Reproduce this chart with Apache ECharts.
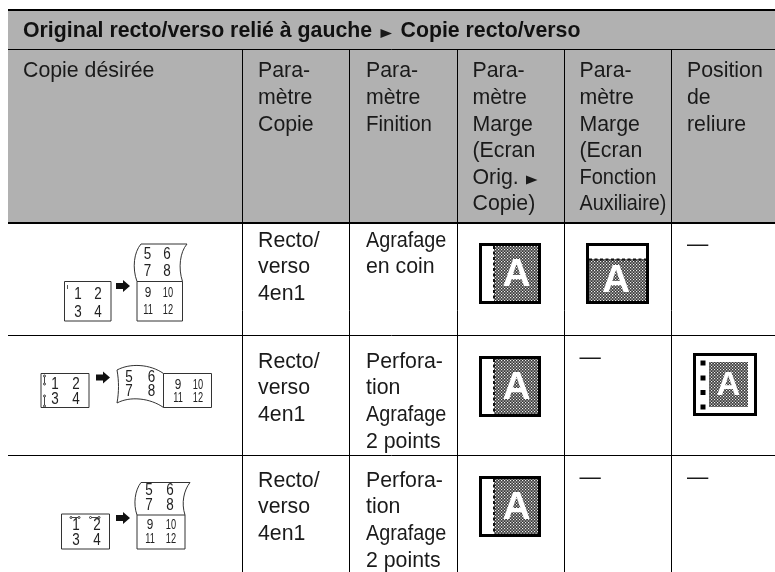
<!DOCTYPE html>
<html>
<head>
<meta charset="utf-8">
<style>
html, body { margin: 0; padding: 0; background: #fff; }
#main { width: 775px; height: 572px; }
</style>
<script src="https://cdn.jsdelivr.net/npm/echarts@6/dist/echarts.min.js"></script>
</head>
<body>
<div id="main"></div>
<script>
// textes du tableau
const titleLeft = 'Original recto/verso relié à gauche';
const titleRight = 'Copie recto/verso';
const headerCells = [
    ['Copie désirée'],
    ['Para-', 'mètre', 'Copie'],
    ['Para-', 'mètre', 'Finition'],
    ['Para-', 'mètre', 'Marge', '(Ecran', 'Orig.', 'Copie)'],
    ['Para-', 'mètre', 'Marge', '(Ecran', 'Fonction', 'Auxiliaire)'],
    ['Position', 'de', 'reliure']
];
const copyCells = [
    ['Recto/', 'verso', '4en1'],
    ['Recto/', 'verso', '4en1'],
    ['Recto/', 'verso', '4en1']
];
const finishCells = [
    ['Agrafage', 'en coin'],
    ['Perfora-', 'tion', 'Agrafage', '2 points'],
    ['Perfora-', 'tion', 'Agrafage', '2 points']
];
const dashCells = [[5, 0], [4, 1], [4, 2], [5, 2]];
const smallDigits = ['1', '2', '3', '4'];
const foldDigits = ['5', '6', '7', '8'];
const lowDigits = ['9', '10', '11', '12'];

// grille
const colEdges = [8, 242.5, 349.5, 457.5, 564.5, 671.5, 775];
const textX = [23, 258, 366, 472.5, 579.5, 687];
const rowTextY = [241, 362, 481];
const dashY = [245, 358, 478];
const lineStep = 26.6;

// mots composes plus serres dans l'original
var tightWords = { 'Agrafage': 0.93, 'Auxiliaire)': 0.93, 'Fonction': 0.94, 'Finition': 0.96 };

var FONT = '"Liberation Sans", Arial, sans-serif';
var INK = '#1a1a1a';
var BODY_SIZE = 21.3;

// trame des icones
var tile = document.createElement('canvas');
tile.width = 3;
tile.height = 3;
var tc = tile.getContext('2d');
tc.fillStyle = '#3a3a3a';
tc.fillRect(0, 0, 3, 3);
tc.fillStyle = '#f0f0f0';
tc.fillRect(0, 0, 1.2, 1.2);
tc.fillRect(1.5, 1.5, 1.2, 1.2);
var dither = { image: tile, repeat: 'repeat' };

// segments : x1, y1, x2, y2, epaisseur
var rules = [
    [8, 10, 775, 10, 2],
    [8, 49.5, 775, 49.5, 1],
    [8, 223, 775, 223, 2],
    [8, 335.5, 775, 335.5, 1],
    [8, 455.5, 775, 455.5, 1]
];
for (var c = 1; c < 6; c++) {
    rules.push([colEdges[c], 49.5, colEdges[c], 572, 1]);
}

// tous les textes du tableau
var texts = [];
function addLines(col, y, lines) {
    lines.forEach(function (t, i) {
        texts.push({ x: textX[col], y: y + i * lineStep, text: t });
    });
}
headerCells.forEach(function (lines, c) {
    addLines(c, 71.5, lines);
});
copyCells.forEach(function (lines, r) {
    addLines(1, rowTextY[r], lines);
});
finishCells.forEach(function (lines, r) {
    addLines(2, rowTextY[r], lines);
});

function label(x, y, t, size, extra) {
    return {
        type: 'text',
        style: Object.assign({
            text: t, x: x, y: y, fontSize: size, fontFamily: FONT,
            fill: INK, align: 'center', verticalAlign: 'middle'
        }, extra || {})
    };
}

// chiffre resserre, comme dans les schemas d'origine
function digit(x, y, t, size) {
    return {
        type: 'text',
        x: x,
        y: y,
        scaleX: t.length > 1 ? 0.66 : 0.84,
        style: {
            text: t, x: 0, y: 0, fontSize: size, fontFamily: FONT,
            fill: '#222', align: 'center', verticalAlign: 'middle'
        }
    };
}

function pathEl(d, fill, stroke, width, dash) {
    return {
        type: 'path',
        shape: { pathData: d },
        style: { fill: fill || 'none', stroke: stroke || null, lineWidth: width || 1, lineDash: dash || null }
    };
}

function rectEl(x, y, w, h, fill, stroke, width) {
    return {
        type: 'rect',
        shape: { x: x, y: y, width: w, height: h },
        style: { fill: fill, stroke: stroke || null, lineWidth: width || 1 }
    };
}

function triangle(x, y, w, h) {
    return pathEl('M' + x + ' ' + (y - h / 2) + 'L' + (x + w) + ' ' + y + 'L' + x + ' ' + (y + h / 2) + 'Z', INK);
}

function arrow(x, y) {
    return pathEl('M' + x + ' ' + (y - 3) + 'H' + (x + 7) + 'V' + (y - 6) + 'L' + (x + 14) + ' ' + y +
        'L' + (x + 7) + ' ' + (y + 6) + 'V' + (y + 3) + 'H' + x + 'Z', '#111');
}

function digits(list, xs, ys, size) {
    return [
        digit(xs[0], ys[0], list[0], size),
        digit(xs[1], ys[0], list[1], size),
        digit(xs[0], ys[1], list[2], size),
        digit(xs[1], ys[1], list[3], size)
    ];
}

// icones marge
function marginLeftIcon(top) {
    return [
        rectEl(480.5, top + 1.5, 59, 58, dither, '#000', 3),
        rectEl(482, top + 3, 12, 55, '#fff'),
        pathEl('M494 ' + (top + 3) + 'V' + (top + 58), null, '#111', 2, [3, 2.5]),
        label(516.5, top + 32, 'A', 39, { fontWeight: 'bold', fill: '#fff' })
    ];
}

function marginTopIcon(top) {
    return [
        rectEl(587.5, top + 1.5, 60, 58, dither, '#000', 3),
        rectEl(589, top + 3, 57, 13, '#fff'),
        pathEl('M589 ' + (top + 16.5) + 'H646', null, '#111', 2, [3, 2.5]),
        label(616, top + 38.5, 'A', 39, { fontWeight: 'bold', fill: '#fff' })
    ];
}

function bindingIcon() {
    var out = [
        rectEl(694.5, 354.5, 61, 60, '#fff', '#000', 3),
        rectEl(709, 362, 39, 45, dither)
    ];
    [363, 378, 392.5, 407].forEach(function (y) {
        out.push(rectEl(700.5, y - 2.5, 5, 5, '#000'));
    });
    out.push(label(728.5, 386, 'A', 33, { fontWeight: 'bold', fill: '#fff' }));
    return out;
}

// schemas colonne de gauche
function figureOne() {
    var out = [
        rectEl(64.5, 281.5, 46.5, 39.5, '#fff', '#333', 1),
        pathEl('M67.5 285V289', null, '#555', 1),
        arrow(116, 286),
        rectEl(137, 281.5, 45.5, 39.5, '#fff', '#333', 1),
        pathEl('M137 281.5C132 268 134 252 141 244H187C180 252 178 268 182.5 281.5', null, '#333', 1)
    ];
    out = out.concat(digits(smallDigits, [78, 98], [295, 312.5], 16));
    out = out.concat(digits(foldDigits, [147.5, 167], [255, 272], 16));
    out = out.concat(digits(lowDigits, [148, 168], [293, 310], 14));
    return out;
}

function figureTwo() {
    var out = [
        rectEl(41, 373.5, 48, 34, '#fff', '#333', 1),
        arrow(96, 377.5),
        rectEl(163.5, 373.5, 48, 34, '#fff', '#333', 1),
        pathEl('M163.5 373.5C150 364 130 363 117 370C119 381 119 392 117 403C130 396 150 398 163.5 407.5', null, '#333', 1),
        pathEl('M44.5 376V384M44.5 396V406', null, '#444', 1),
        pathEl('M43.5 376a1 1 0 1 0 2 0a1 1 0 1 0 -2 0M43.5 384a1 1 0 1 0 2 0a1 1 0 1 0 -2 0' +
            'M43.5 396a1 1 0 1 0 2 0a1 1 0 1 0 -2 0M43.5 406a1 1 0 1 0 2 0a1 1 0 1 0 -2 0', '#fff', '#333', 1)
    ];
    out = out.concat(digits(smallDigits, [55, 76], [385, 400], 16));
    out = out.concat(digits(foldDigits, [129, 151.5], [377.5, 392], 16));
    out = out.concat(digits(lowDigits, [178, 198], [385, 398], 14));
    return out;
}

function figureThree() {
    var out = [
        rectEl(61.5, 514, 48, 35, '#fff', '#333', 1),
        arrow(116, 518),
        rectEl(137, 515, 48, 34, '#fff', '#333', 1),
        pathEl('M137 515C133 504 135 490 141 482.5H190C184 490 181 503 185 515', null, '#333', 1),
        pathEl('M71 517.5H79M90.5 517.5H99', null, '#444', 1),
        pathEl('M70 517.5a1 1 0 1 0 2 0a1 1 0 1 0 -2 0M78 517.5a1 1 0 1 0 2 0a1 1 0 1 0 -2 0' +
            'M89.5 517.5a1 1 0 1 0 2 0a1 1 0 1 0 -2 0M98 517.5a1 1 0 1 0 2 0a1 1 0 1 0 -2 0', '#fff', '#333', 1)
    ];
    out = out.concat(digits(smallDigits, [76, 97], [526, 541], 16));
    out = out.concat(digits(foldDigits, [149, 170], [491, 506], 16));
    out = out.concat(digits(lowDigits, [150, 171], [525, 539], 14));
    return out;
}

var figures = [
    figureOne,
    figureTwo,
    figureThree,
    function () { return marginLeftIcon(243); },
    function () { return marginLeftIcon(356); },
    function () { return marginLeftIcon(476); },
    function () { return marginTopIcon(243); },
    bindingIcon
];

var chart = echarts.init(document.getElementById('main'));

chart.setOption({
    animation: false,
    backgroundColor: '#fff',
    grid: { left: 0, right: 0, top: 0, bottom: 0 },
    xAxis: { type: 'value', min: 0, max: 775, show: false },
    yAxis: { type: 'value', min: 0, max: 572, inverse: true, show: false },
    series: [
        {
            // fond gris de l'en-tete
            type: 'custom',
            silent: true,
            data: [[8, 10, 775, 223]],
            renderItem: function (params, api) {
                var a = api.coord([api.value(0), api.value(1)]);
                var b = api.coord([api.value(2), api.value(3)]);
                return rectEl(a[0], a[1], b[0] - a[0], b[1] - a[1], '#b1b1b1');
            }
        },
        {
            // filets
            type: 'custom',
            silent: true,
            data: rules,
            renderItem: function (params, api) {
                var a = api.coord([api.value(0), api.value(1)]);
                var b = api.coord([api.value(2), api.value(3)]);
                return {
                    type: 'line',
                    shape: { x1: a[0], y1: a[1], x2: b[0], y2: b[1] },
                    style: { stroke: '#000', lineWidth: api.value(4) }
                };
            }
        },
        {
            // textes
            type: 'custom',
            silent: true,
            data: texts.map(function (t) { return [t.x, t.y]; }),
            renderItem: function (params, api) {
                var p = api.coord([api.value(0), api.value(1)]);
                var word = texts[params.dataIndex].text;
                return {
                    type: 'text',
                    x: p[0],
                    y: p[1],
                    scaleX: tightWords[word] || 1,
                    style: {
                        text: word, x: 0, y: 0,
                        fontSize: BODY_SIZE, fontFamily: FONT, fill: INK, align: 'left', verticalAlign: 'middle'
                    }
                };
            }
        },
        {
            // tirets des cases vides
            type: 'custom',
            silent: true,
            data: dashCells,
            renderItem: function (params, api) {
                var p = api.coord([textX[api.value(0)], dashY[api.value(1)]]);
                return {
                    type: 'text',
                    style: {
                        text: '—', x: p[0], y: p[1], fontSize: BODY_SIZE, fontFamily: FONT,
                        fill: INK, align: 'left', verticalAlign: 'middle'
                    }
                };
            }
        },
        {
            // titre et petits triangles
            type: 'custom',
            silent: true,
            data: [[23, 31]],
            renderItem: function (params, api) {
                var p = api.coord([api.value(0), api.value(1)]);
                return {
                    type: 'group',
                    children: [
                        {
                            type: 'text',
                            style: {
                                text: titleLeft, x: p[0], y: p[1], fontSize: BODY_SIZE, fontWeight: 'bold',
                                fontFamily: FONT, fill: '#111', align: 'left', verticalAlign: 'middle'
                            }
                        },
                        {
                            type: 'text',
                            style: {
                                text: titleRight, x: 400.5, y: p[1], fontSize: BODY_SIZE, fontWeight: 'bold',
                                fontFamily: FONT, fill: '#111', align: 'left', verticalAlign: 'middle'
                            }
                        },
                        triangle(380.5, 33.5, 11.5, 9),
                        triangle(526, 180, 11.5, 9)
                    ]
                };
            }
        },
        {
            // schemas et icones
            type: 'custom',
            silent: true,
            clip: false,
            data: figures.map(function (f, i) { return [i, 0]; }),
            renderItem: function (params, api) {
                var origin = api.coord([0, 0]);
                return {
                    type: 'group',
                    x: origin[0],
                    y: origin[1],
                    children: figures[params.dataIndex]()
                };
            }
        }
    ]
});
</script>
</body>
</html>
